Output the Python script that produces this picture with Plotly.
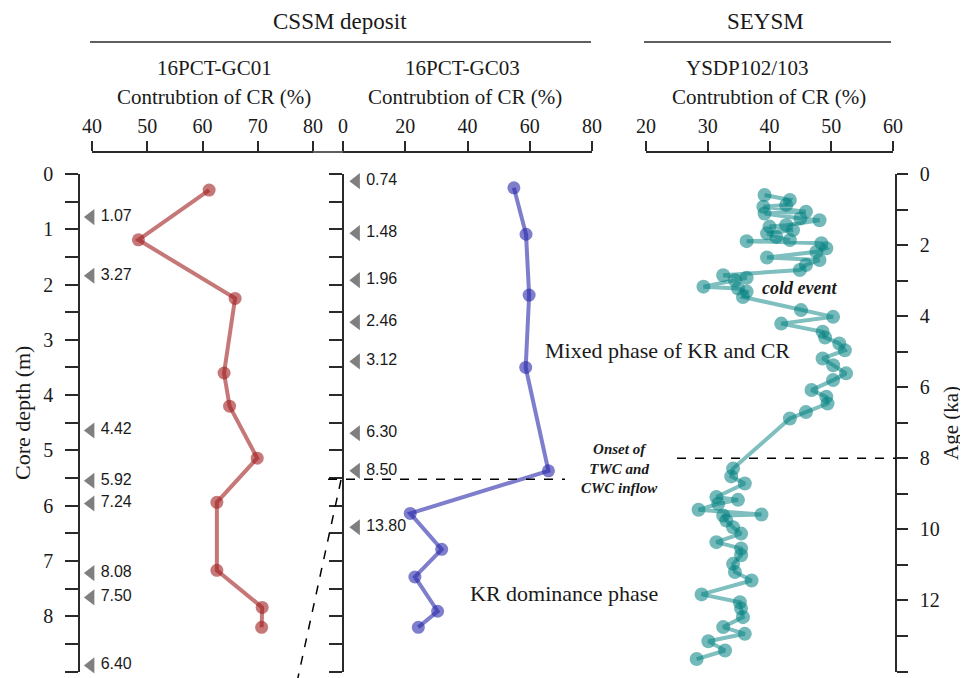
import plotly.graph_objects as go

# ---------------- data ----------------
gc01_depth = [0.29, 1.19, 2.25, 3.60, 4.20, 5.14, 5.94, 7.17, 7.84, 8.20]
gc01_cr = [61.2, 48.4, 65.9, 63.9, 64.9, 69.9, 62.6, 62.6, 70.8, 70.7]

gc03_depth = [0.25, 1.09, 2.19, 3.50, 5.37, 6.14, 6.79, 7.29, 7.91, 8.20]
gc03_cr = [54.9, 58.8, 59.8, 58.7, 66.0, 21.6, 31.7, 23.1, 30.4, 24.2]

gc01_age_depth = [0.78, 1.84, 4.64, 5.55, 5.96, 7.22, 7.66, 8.89]
gc01_age_label = ["1.07", "3.27", "4.42", "5.92", "7.24", "8.08", "7.50", "6.40"]

gc03_age_depth = [0.13, 1.07, 1.92, 2.68, 3.39, 4.69, 5.37, 6.39]
gc03_age_label = ["0.74", "1.48", "1.96", "2.46", "3.12", "6.30", "8.50", "13.80"]

ysdp_age = [0.59, 0.73, 0.87, 0.92, 1.06, 1.11, 1.25, 1.30, 1.44, 1.48, 1.58, 1.67,
            1.77, 1.86, 1.89, 1.95, 2.09, 2.19, 2.35, 2.42, 2.56, 2.70, 2.85, 2.92,
            2.99, 3.17, 3.22, 3.31, 3.46, 3.83, 4.02, 4.21, 4.44, 4.60, 4.77, 4.96,
            5.19, 5.38, 5.61, 5.80, 6.08, 6.27, 6.46, 6.70, 6.88, 8.29, 8.51, 8.71,
            9.09, 9.17, 9.28, 9.45, 9.58, 9.61, 9.75, 9.94, 10.12, 10.36, 10.54, 10.73,
            10.97, 11.20, 11.44, 11.83, 12.05, 12.23, 12.47, 12.75, 12.94, 13.15, 13.41, 13.65]
ysdp_cr = [39.2, 43.3, 42.7, 39.0, 45.9, 39.2, 45.0, 48.1, 42.7, 40.0, 43.8, 39.6,
           41.1, 43.3, 36.3, 48.4, 49.2, 47.6, 39.6, 48.1, 45.9, 44.9, 32.5, 36.3,
           34.4, 29.3, 34.9, 36.3, 35.7, 45.1, 50.3, 41.9, 48.6, 49.0, 51.3, 52.2,
           48.6, 50.3, 52.4, 50.3, 46.8, 49.2, 49.4, 45.9, 43.3, 34.1, 33.8, 36.0,
           31.4, 34.9, 31.7, 28.5, 38.7, 32.5, 33.0, 34.1, 35.4, 31.4, 35.4, 35.4,
           34.1, 34.4, 37.1, 29.0, 35.2, 35.4, 35.7, 32.5, 36.0, 30.1, 32.8, 28.2]

boundary_depth = 5.52
boundary_age = 8

# ---------------- helpers ----------------
# the page body has an 8px margin, so the figure starts at (8, 8) in the window
OFF = 8
W, H = 968 - OFF, 678 - OFF
def px(x):
    return (x - OFF) / W
def py(y):
    return 1 - (y - OFF) / H

SERIF = "Liberation Serif, Times New Roman, serif"
SANS = "Liberation Sans, Arial, sans-serif"
AX = "#2a2a2a"

ydom = [py(671.5), py(174)]

fig = go.Figure()

# GC01
fig.add_trace(go.Scatter(
    x=gc01_cr, y=gc01_depth, xaxis="x", yaxis="y", mode="lines+markers",
    line=dict(color="rgba(160,30,30,0.6)", width=4),
    marker=dict(size=13, color="rgba(160,30,30,0.6)"),
    showlegend=False, cliponaxis=False))
fig.add_trace(go.Scatter(
    x=[39.8] * len(gc01_age_depth), y=gc01_age_depth, xaxis="x4", yaxis="y",
    mode="markers+text", text=gc01_age_label, textposition="middle right",
    textfont=dict(family=SANS, size=16, color="#1a1a1a"),
    marker=dict(symbol="triangle-left", size=14, color="#7f7f7f"),
    showlegend=False, cliponaxis=False))

# GC03
fig.add_trace(go.Scatter(
    x=gc03_cr, y=gc03_depth, xaxis="x2", yaxis="y2", mode="lines+markers",
    line=dict(color="rgba(40,40,170,0.6)", width=4),
    marker=dict(size=13, color="rgba(40,40,170,0.6)"),
    showlegend=False, cliponaxis=False))
fig.add_trace(go.Scatter(
    x=[4.3] * len(gc03_age_depth), y=gc03_age_depth, xaxis="x2", yaxis="y2",
    mode="markers+text", text=gc03_age_label, textposition="middle right",
    textfont=dict(family=SANS, size=16, color="#1a1a1a"),
    marker=dict(symbol="triangle-left", size=14, color="#7f7f7f"),
    showlegend=False, cliponaxis=False))

# YSDP
fig.add_trace(go.Scatter(
    x=ysdp_cr, y=ysdp_age, xaxis="x3", yaxis="y3", mode="lines+markers",
    line=dict(color="rgba(0,128,128,0.5)", width=4),
    marker=dict(size=14, color="rgba(0,128,128,0.55)"),
    showlegend=False, cliponaxis=False))

tickfont = dict(family=SERIF, size=20, color="#1a1a1a")
xcommon = dict(side="top", anchor="free", position=py(152), showline=True,
               linecolor=AX, linewidth=1.5, ticks="outside", ticklen=10,
               tickcolor=AX, tickwidth=1.5, showgrid=False, zeroline=False,
               tickfont=tickfont, fixedrange=True, automargin=False)

fig.update_layout(
    width=W, height=H, margin=dict(l=0, r=0, t=0, b=0, autoexpand=False),
    paper_bgcolor="white", plot_bgcolor="rgba(0,0,0,0)",
    showlegend=False,
    xaxis=dict(domain=[px(92), px(313)], range=[40, 80], dtick=10, **xcommon),
    xaxis2=dict(domain=[px(343), px(592)], range=[0, 80], dtick=20, **xcommon),
    xaxis3=dict(domain=[px(646), px(893)], range=[20, 60], dtick=10, **xcommon),
    xaxis4=dict(domain=[px(79), px(313)], range=[40 - 13 / 5.525, 80], visible=False,
                anchor="y", fixedrange=True, automargin=False),
    yaxis=dict(domain=ydom, range=[9, 0], anchor="free", position=px(79),
               showline=True, linecolor=AX, linewidth=1.5, ticks="outside",
               ticklen=13, tickcolor=AX, tickwidth=1.5, dtick=1, tick0=0,
               minor=dict(dtick=0.5, ticks="outside", ticklen=13, tickcolor=AX, tickwidth=1.5, showgrid=False),
               showgrid=False, zeroline=False, tickfont=tickfont,
               ticklabelstandoff=8, fixedrange=True, automargin=False),
    yaxis2=dict(domain=ydom, range=[9, 0], anchor="free", position=px(343),
                showline=True, linecolor=AX, linewidth=1.5, ticks="outside",
                ticklen=13, tickcolor=AX, tickwidth=1.5, dtick=0.5, tick0=0,
                showticklabels=False, showgrid=False, zeroline=False, fixedrange=True,
                automargin=False),
    yaxis3=dict(domain=ydom, range=[14, 0], anchor="free", position=px(896), side="right",
                showline=True, linecolor=AX, linewidth=1.5, ticks="outside",
                ticklen=11, tickcolor=AX, tickwidth=1.5, dtick=2, tick0=0,
                minor=dict(dtick=1, ticks="outside", ticklen=11, tickcolor=AX, tickwidth=1.5, showgrid=False),
                showgrid=False, zeroline=False, tickfont=tickfont,
                ticklabelstandoff=8, fixedrange=True, automargin=False),
)

shapes = [
    # header rules
    dict(type="line", xref="paper", yref="paper", x0=px(90), x1=px(591), y0=py(42), y1=py(42),
         line=dict(color=AX, width=1.5)),
    dict(type="line", xref="paper", yref="paper", x0=px(644), x1=px(891), y0=py(42), y1=py(42),
         line=dict(color=AX, width=1.5)),
    # gap of top axis line between panel 1 and 2
    dict(type="line", xref="paper", yref="paper", x0=px(313), x1=px(343), y0=py(152), y1=py(152),
         line=dict(color=AX, width=1.5)),
    # boundary dashed lines
    dict(type="line", xref="paper", yref="y2", x0=px(328), x1=px(565), y0=boundary_depth, y1=boundary_depth,
         line=dict(color="black", width=1.5, dash="dash")),
    dict(type="line", xref="paper", yref="paper", x0=px(341), x1=px(292), y0=py(480), y1=py(705),
         line=dict(color="black", width=1.5, dash="dash")),
    dict(type="line", xref="paper", yref="y3", x0=px(677), x1=px(896), y0=boundary_age, y1=boundary_age,
         line=dict(color="black", width=1.5, dash="dash")),
]
fig.update_layout(shapes=shapes)

def ann(text, x, y, size, family=SERIF, angle=0, **kw):
    return dict(text=text, x=px(x), y=py(y), xref="paper", yref="paper",
                showarrow=False, xanchor="center", yanchor="middle",
                textangle=angle, font=dict(family=family, size=size, color="#1a1a1a"), **kw)

annotations = [
    ann("CSSM deposit", 340, 22, 23),
    ann("SEYSM", 765, 22, 23),
    ann("16PCT-GC01", 214, 68, 21),
    ann("Contrubtion of CR (%)", 214, 97, 21),
    ann("16PCT-GC03", 462, 68, 21),
    ann("Contrubtion of CR (%)", 465, 97, 21),
    ann("YSDP102/103", 747, 68, 21),
    ann("Contrubtion of CR (%)", 769, 97, 21),
    ann("Core depth (m)", 22, 413, 22, angle=-90),
    ann("Age (ka)", 951, 423, 21, angle=-90),
    ann("Mixed phase of KR and CR", 667, 350, 22),
    ann("KR dominance phase", 564, 593, 22),
    ann("<b><i>cold event</i></b>", 799, 288, 18),
    ann("<b><i>Onset of<br>TWC and<br>CWC inflow</i></b>", 619, 468, 15),
]
fig.update_layout(annotations=annotations)

fig.write_html("out.html")
